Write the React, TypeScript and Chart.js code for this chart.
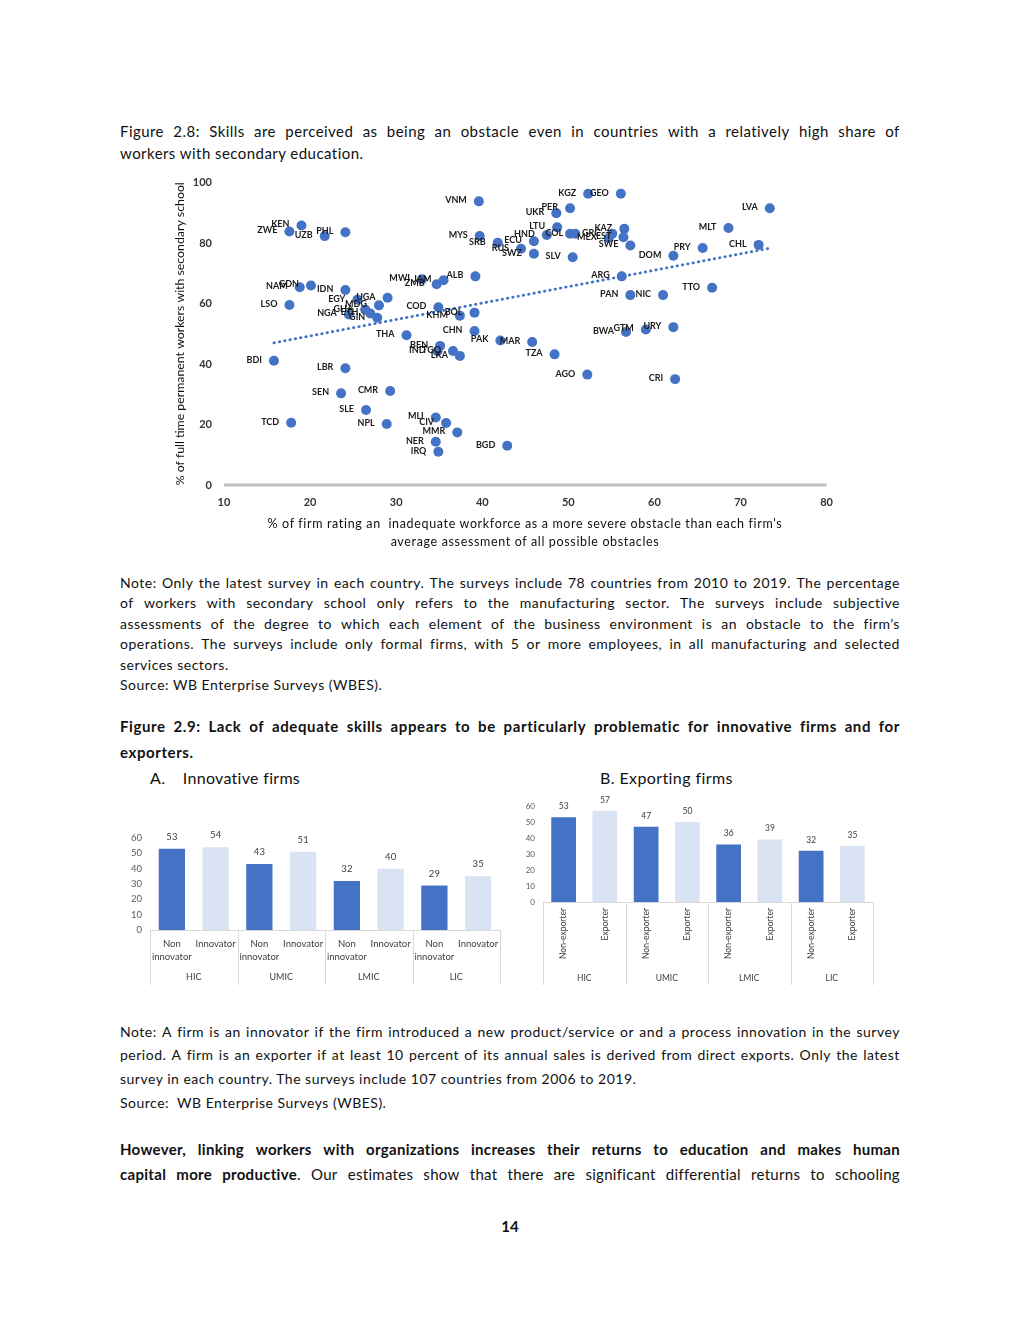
import React, { useEffect, useRef } from "react";
import { Chart, registerables } from "chart.js";

Chart.register(...registerables);

// ---------- Figure 2.8 scatter data ----------
const countryCodes = [
  "VNM", "KEN", "ZWE", "UZB", "PHL", "MYS", "SRB", "NAM", "GDN", "IDN",
  "LSO", "EGY", "UGA", "MDG", "GHA", "NGA", "ETH", "GIN", "MWI", "ZMB",
  "JAM", "ALB", "COD", "KHM", "BOL", "CHN", "THA", "BEN", "IND", "TGO",
  "LKA", "PAK", "MAR", "TZA", "AGO", "CRI", "BGD", "BDI", "LBR", "SEN",
  "CMR", "SLE", "TCD", "NPL", "MLI", "CIV", "MMR", "NER", "IRQ", "KGZ",
  "GEO", "LVA", "PER", "UKR", "LTU", "COL", "", "MEX", "GRC", "KAZ",
  "EST", "SWE", "HND", "ECU", "RUS", "SWZ", "SLV", "DOM", "PRY", "MLT",
  "CHL", "ARG", "PAN", "NIC", "TTO", "BWA", "GTM", "URY",
];
const inadequateWorkforceShare = [
  39.6, 19.0, 17.6, 21.7, 24.1, 39.7, 41.8, 18.8, 20.1, 24.1,
  17.6, 25.5, 29.0, 28.0, 26.4, 24.5, 27.0, 27.8, 33.0, 34.7,
  35.5, 39.2, 34.9, 37.4, 39.1, 39.1, 31.2, 35.1, 34.8, 36.6,
  37.4, 42.1, 45.8, 48.4, 52.2, 62.4, 42.9, 15.8, 24.1, 23.6,
  29.3, 26.5, 17.8, 28.9, 34.6, 35.8, 37.1, 34.6, 34.9, 52.3,
  56.1, 73.4, 50.2, 48.6, 48.7, 50.8, 50.2, 54.7, 55.1, 56.5,
  56.4, 57.2, 47.5, 46.0, 44.5, 46.0, 50.5, 62.2, 65.6, 68.6,
  72.1, 56.2, 57.2, 61.0, 66.7, 56.7, 59.0, 62.2,
];
const secondarySchoolShare = [
  93.8, 85.8, 83.8, 82.3, 83.6, 82.3, 80.1, 65.4, 66.0, 64.5,
  59.5, 61.3, 61.9, 59.4, 58.0, 56.4, 56.7, 55.3, 68.0, 66.4,
  67.7, 69.0, 58.8, 56.0, 57.0, 50.9, 49.5, 46.0, 44.2, 44.3,
  42.7, 47.8, 47.3, 43.2, 36.5, 35.0, 13.0, 41.1, 38.6, 30.3,
  31.1, 24.8, 20.6, 20.2, 22.3, 20.5, 17.4, 14.3, 11.0, 96.3,
  96.3, 91.5, 91.5, 89.9, 85.2, 83.1, 83.1, 81.7, 83.1, 84.7,
  81.9, 79.2, 82.7, 80.6, 78.1, 76.5, 75.3, 75.8, 78.4, 85.0,
  79.4, 69.0, 62.8, 62.8, 65.2, 50.6, 51.4, 52.2,
];
const trendX = [15.8, 73.4];
const trendY = [47.0, 78.3];
const scatterXTitle = [
  "% of firm rating an  inadequate workforce as a more severe obstacle than each firm's",
  "average assessment of all possible obstacles",
];
const scatterYTitle = "% of full time permanent workers with secondary school";

// ---------- Figure 2.9 bar data ----------
const incomeGroups = ["HIC", "UMIC", "LMIC", "LIC"];
const innovationCategories: (string | string[])[] = [["Non", "innovator"], "Innovator"];
const nonInnovatorShare = [53, 43, 32, 29];
const innovatorShare = [54, 51, 40, 35];
const exportCategories = ["Non-exporter", "Exporter"];
const nonExporterShare = [53, 47, 36, 32];
const exporterShare = [57, 50, 39, 35];

const BLUE = "#4472C4";
const LIGHT = "#DAE3F3";
const FONT = "Lato";

const scatterLabelPlugin = {
  id: "scatterLabels",
  afterDatasetsDraw(chart: any) {
    const meta = chart.getDatasetMeta(0);
    const ctx = chart.ctx;
    ctx.save();
    ctx.font = `bold 9px ${FONT}`;
    ctx.fillStyle = "#1a1a1a";
    ctx.textAlign = "right";
    ctx.textBaseline = "middle";
    meta.data.forEach((pt: any, i: number) => {
      const t = countryCodes[i];
      if (t) ctx.fillText(t, pt.x - 12, pt.y - 1);
    });
    ctx.restore();
  },
  beforeDatasetsDraw(chart: any) {
    const { ctx, chartArea } = chart;
    const y0 = chart.scales.y.getPixelForValue(0);
    ctx.save();
    ctx.strokeStyle = "#BFBFBF";
    ctx.lineWidth = 3;
    ctx.beginPath();
    ctx.moveTo(chartArea.left, y0);
    ctx.lineTo(chartArea.right, y0);
    ctx.stroke();
    ctx.restore();
  },
};

function ScatterChart() {
  const ref = useRef<HTMLCanvasElement>(null);
  useEffect(() => {
    const points = inadequateWorkforceShare.map((x, i) => ({ x, y: secondarySchoolShare[i] }));
    const trend = trendX.map((x, i) => ({ x, y: trendY[i] }));
    const chart = new Chart(ref.current as HTMLCanvasElement, {
      type: "scatter",
      data: {
        datasets: [
          {
            data: points,
            pointRadius: 5,
            pointBackgroundColor: BLUE,
            pointBorderColor: BLUE,
            pointBorderWidth: 0,
          } as any,
          {
            data: trend,
            showLine: true,
            pointRadius: 0,
            borderColor: BLUE,
            borderWidth: 2.8,
            borderDash: [0.5, 4.9],
            borderCapStyle: "round",
          } as any,
        ],
      },
      options: {
        responsive: false,
        animation: false,
        devicePixelRatio: 1,
        layout: { padding: { top: 12, right: 14, left: 0, bottom: 0 } },
        plugins: { legend: { display: false }, tooltip: { enabled: false } },
        scales: {
          x: {
            type: "linear",
            min: 10,
            max: 80,
            ticks: { stepSize: 10, padding: 11, color: "#333", font: { family: FONT, size: 11, weight: "bold" } },
            grid: { display: false, drawTicks: false },
            border: { display: false },
            afterFit: (s: any) => {
              s.height = 35;
            },
          },
          y: {
            min: 0,
            max: 100,
            ticks: { stepSize: 20, padding: 12, color: "#333", font: { family: FONT, size: 11, weight: "bold" } },
            grid: { display: false, drawTicks: false },
            border: { display: false },
            title: {
              display: true,
              text: scatterYTitle,
              color: "#111",
              font: { family: FONT, size: 12.3 },
              padding: { top: 13, bottom: 0 },
            },
            afterFit: (s: any) => {
              s.width = 64;
            },
          },
        },
      } as any,
      plugins: [scatterLabelPlugin],
    });
    return () => chart.destroy();
  }, []);
  return (
    <>
      <canvas
        ref={ref}
        width={684}
        height={356}
        style={{ position: "absolute", left: 160, top: 164, width: 684, height: 356 }}
      />
      <div
        style={{
          position: "absolute",
          left: 224,
          width: 602,
          top: 515,
          textAlign: "center",
          fontSize: 12.5,
          lineHeight: "18px",
          letterSpacing: "0.65px",
          whiteSpace: "pre",
          color: "#111",
        }}
      >
        {scatterXTitle.map((t, i) => (
          <div key={i}>{t}</div>
        ))}
      </div>
    </>
  );
}

interface BarProps {
  first: number[];
  second: number[];
  subLabels: (string | string[])[];
  left: number;
  top: number;
  width: number;
  height: number;
  padTop: number;
  padRight: number;
  yWidth: number;
  xHeight: number;
  rotation: number;
  tickSize: number;
  tickPad: number;
  yTickSize: number;
  valueSize: number;
  valueGap: number;
  groupOffset: number;
  sepLength: number;
  groupSize: number;
}

function BarChart(p: BarProps) {
  const ref = useRef<HTMLCanvasElement>(null);
  useEffect(() => {
    const labels: (string | string[])[] = [];
    const values: number[] = [];
    const colors: string[] = [];
    incomeGroups.forEach((_, i) => {
      labels.push(p.subLabels[0]);
      values.push(p.first[i]);
      colors.push(BLUE);
      labels.push(p.subLabels[1]);
      values.push(p.second[i]);
      colors.push(LIGHT);
    });
    const decor = {
      id: "barDecor",
      afterDraw(chart: any) {
        const { ctx, chartArea } = chart;
        const y0 = chart.scales.y.getPixelForValue(0);
        ctx.save();
        ctx.strokeStyle = "#D9D9D9";
        ctx.lineWidth = 1;
        ctx.beginPath();
        ctx.moveTo(chartArea.left, y0 + 0.5);
        ctx.lineTo(chartArea.right, y0 + 0.5);
        const n = incomeGroups.length;
        const gw = (chartArea.right - chartArea.left) / n;
        for (let i = 0; i <= n; i++) {
          const x = Math.round(chartArea.left + i * gw) + 0.5;
          ctx.moveTo(x, y0);
          ctx.lineTo(x, y0 + p.sepLength);
        }
        ctx.stroke();
        ctx.fillStyle = "#404040";
        ctx.textAlign = "center";
        ctx.textBaseline = "middle";
        ctx.font = `${p.groupSize}px ${FONT}`;
        incomeGroups.forEach((g, i) => {
          ctx.fillText(g, chartArea.left + (i + 0.5) * gw, y0 + p.groupOffset);
        });
        ctx.font = `${p.valueSize}px ${FONT}`;
        const meta = chart.getDatasetMeta(0);
        meta.data.forEach((bar: any, i: number) => {
          ctx.fillText(String(values[i]), bar.x, bar.y - p.valueGap);
        });
        ctx.restore();
      },
    };
    const chart = new Chart(ref.current as HTMLCanvasElement, {
      type: "bar",
      data: {
        labels,
        datasets: [
          {
            data: values,
            backgroundColor: colors,
            barPercentage: 1,
            categoryPercentage: 0.6,
          },
        ],
      },
      options: {
        responsive: false,
        animation: false,
        devicePixelRatio: 1,
        layout: { padding: { top: p.padTop, right: p.padRight, left: 0, bottom: 0 } },
        plugins: { legend: { display: false }, tooltip: { enabled: false } },
        scales: {
          x: {
            grid: { display: false, drawTicks: false },
            border: { display: false },
            ticks: {
              autoSkip: false,
              maxRotation: p.rotation,
              minRotation: p.rotation,
              padding: p.tickPad,
              color: "#404040",
              font: { family: FONT, size: p.tickSize, lineHeight: 1.35 },
            },
            afterFit: (s: any) => {
              s.height = p.xHeight;
            },
          },
          y: {
            min: 0,
            max: 60,
            ticks: { stepSize: 10, padding: 8, color: "#595959", font: { family: FONT, size: p.yTickSize } },
            grid: { display: false, drawTicks: false },
            border: { display: false },
            afterFit: (s: any) => {
              s.width = p.yWidth;
            },
          },
        },
      } as any,
      plugins: [decor],
    });
    return () => chart.destroy();
  }, []);
  return (
    <canvas
      ref={ref}
      width={p.width}
      height={p.height}
      style={{ position: "absolute", left: p.left, top: p.top, width: p.width, height: p.height }}
    />
  );
}

type Seg = { t: string; b?: boolean };
type LineSpec = string | Seg[];

function toWords(segs: Seg[]): Seg[][] {
  const words: Seg[][] = [[]];
  segs.forEach((s) => {
    const parts = s.t.split(/ +/);
    parts.forEach((part, i) => {
      if (i > 0) words.push([]);
      if (part) words[words.length - 1].push({ t: part, b: s.b });
    });
  });
  return words.filter((w) => w.length);
}

function Para({
  lines,
  top,
  size,
  lh,
  ls,
  bold,
  justifyLast,
}: {
  lines: LineSpec[];
  top: number;
  size: number;
  lh: number;
  ls: number;
  bold?: boolean;
  justifyLast?: boolean;
}) {
  return (
    <div
      style={{
        position: "absolute",
        left: 120,
        top,
        width: 780,
        fontSize: size,
        lineHeight: `${lh}px`,
        letterSpacing: `${ls}px`,
        fontWeight: bold ? 700 : 400,
        color: "#111",
      }}
    >
      {lines.map((l, i) => {
        const segs: Seg[] = typeof l === "string" ? [{ t: l }] : l;
        const justify = i < lines.length - 1 || justifyLast;
        if (!justify) {
          return (
            <div key={i} style={{ whiteSpace: "pre" }}>
              {segs.map((s, j) => (
                <span key={j} style={s.b ? { fontWeight: 700 } : undefined}>
                  {s.t}
                </span>
              ))}
            </div>
          );
        }
        const words = toWords(segs);
        return (
          <div key={i} style={{ display: "flex", justifyContent: "space-between", whiteSpace: "nowrap" }}>
            {words.map((w, j) => (
              <span key={j}>
                {w.map((s, k) => (
                  <span key={k} style={s.b ? { fontWeight: 700 } : undefined}>
                    {s.t}
                  </span>
                ))}
              </span>
            ))}
          </div>
        );
      })}
    </div>
  );
}

export default function App() {
  return (
    <div
      style={{
        position: "relative",
        width: 1020,
        height: 1305,
        margin: "-8px 0 0 -8px",
        fontFamily: FONT,
        color: "#111",
        background: "#fff",
        overflow: "hidden",
      }}
    >
      <Para
        top={120}
        size={15}
        lh={22}
        ls={0.45}
        lines={[
          "Figure 2.8: Skills are perceived as being an obstacle even in countries with a relatively high share of",
          "workers with secondary education.",
        ]}
      />
      <ScatterChart />
      <Para
        top={573}
        size={14}
        lh={20.4}
        ls={0.5}
        lines={[
          "Note: Only the latest survey in each country. The surveys include 78 countries from 2010 to 2019. The percentage",
          "of workers with secondary school only refers to the manufacturing sector.  The surveys include subjective",
          "assessments of the degree to which each element of the business environment is an obstacle to the firm’s",
          "operations. The surveys include only formal firms, with 5 or more employees, in all manufacturing and selected",
          "services sectors.",
        ]}
      />
      <div style={{ position: "absolute", left: 120, top: 675, fontSize: 14, lineHeight: "20px", letterSpacing: "0.5px" }}>
        Source: WB Enterprise Surveys (WBES).
      </div>
      <Para
        top={713}
        size={15}
        lh={26}
        ls={0.6}
        bold
        lines={[
          "Figure 2.9: Lack of adequate skills appears to be particularly problematic for innovative firms and for",
          "exporters.",
        ]}
      />
      <div style={{ position: "absolute", left: 150, top: 767, fontSize: 16, lineHeight: "22px", whiteSpace: "pre", letterSpacing: "0.3px" }}>
        {"A.    Innovative firms"}
      </div>
      <div style={{ position: "absolute", left: 600, top: 767, fontSize: 16, lineHeight: "22px", whiteSpace: "pre", letterSpacing: "0.4px" }}>
        {"B. Exporting firms"}
      </div>
      <BarChart
        first={nonInnovatorShare}
        second={innovatorShare}
        subLabels={innovationCategories}
        left={118}
        top={820}
        width={390}
        height={175}
        padTop={18}
        padRight={8}
        yWidth={32}
        xHeight={65}
        rotation={0}
        tickSize={9.5}
        tickPad={8}
        yTickSize={9.5}
        valueSize={9.5}
        valueGap={12}
        groupOffset={47}
        sepLength={55}
        groupSize={9}
      />
      <BarChart
        first={nonExporterShare}
        second={exporterShare}
        subLabels={exportCategories}
        left={512}
        top={790}
        width={370}
        height={200}
        padTop={16}
        padRight={9}
        yWidth={31}
        xHeight={88}
        rotation={90}
        tickSize={8.5}
        tickPad={6}
        yTickSize={8}
        valueSize={8.5}
        valueGap={11}
        groupOffset={76}
        sepLength={83}
        groupSize={8.5}
      />
      <Para
        top={1020}
        size={14}
        lh={23.3}
        ls={0.5}
        lines={[
          "Note: A firm is an innovator if the firm introduced a new product/service or and a process innovation in the survey",
          "period.  A firm is an exporter if at least 10 percent of its annual sales is derived from direct exports. Only the latest",
          "survey in each country. The surveys include 107 countries from 2006 to 2019.",
        ]}
      />
      <div
        style={{
          position: "absolute",
          left: 120,
          top: 1091,
          fontSize: 14,
          lineHeight: "23px",
          whiteSpace: "pre",
          letterSpacing: "0.5px",
        }}
      >
        {"Source:  WB Enterprise Surveys (WBES)."}
      </div>
      <Para
        top={1137}
        size={15}
        lh={25}
        ls={0.3}
        justifyLast
        lines={[
          [{ t: "However, linking workers with organizations increases their returns to education and makes human", b: true }],
          [
            { t: "capital more productive", b: true },
            { t: ". Our estimates show that there are significant differential returns to schooling" },
          ],
        ]}
      />
      <div
        style={{
          position: "absolute",
          left: 0,
          width: 1020,
          top: 1216,
          textAlign: "center",
          fontSize: 15,
          fontWeight: 700,
          lineHeight: "20px",
        }}
      >
        14
      </div>
    </div>
  );
}
